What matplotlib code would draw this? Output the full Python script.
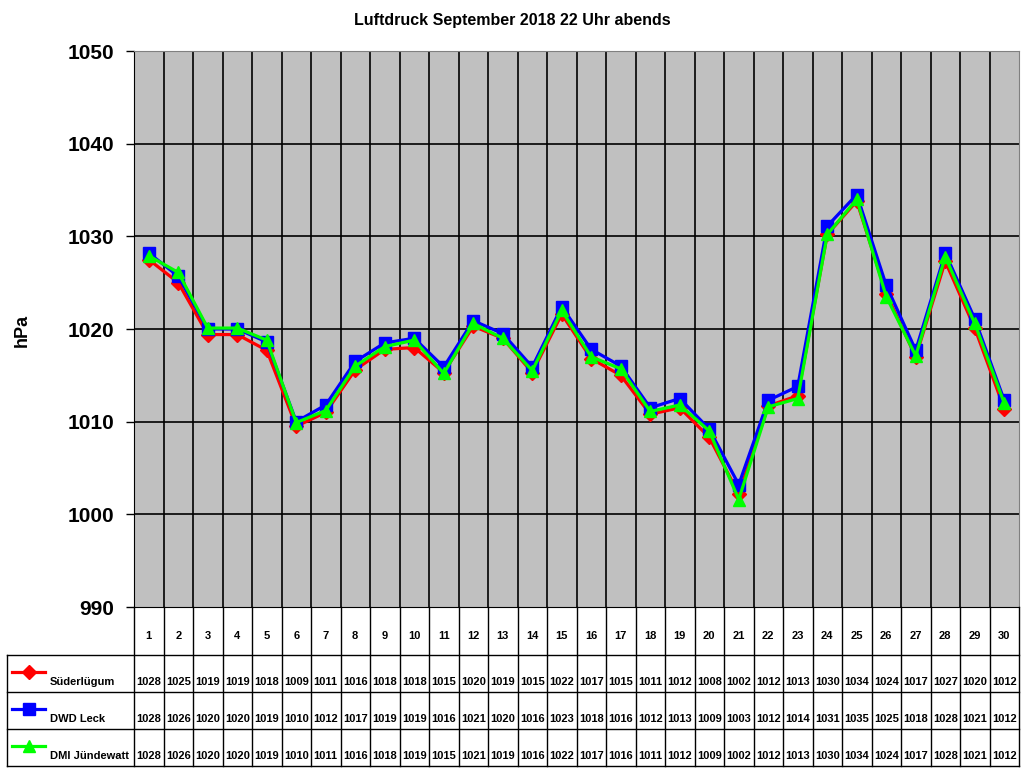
import numpy as np
import matplotlib
matplotlib.use("Agg")
import matplotlib.pyplot as plt

plt.rcParams['font.family'] = ['Liberation Sans', 'DejaVu Sans']
plt.rcParams['font.weight'] = 'bold'

days = list(range(1, 31))

suederluegum = [1027.5, 1025.0, 1019.4, 1019.4, 1017.7, 1009.5, 1011.0, 1015.6, 1017.8, 1018.0,
                1015.3, 1020.3, 1019.0, 1015.3, 1021.6, 1016.8, 1015.0, 1010.8, 1011.5, 1008.3,
                1002.2, 1011.7, 1012.8, 1030.2, 1033.8, 1023.8, 1017.0, 1027.3, 1020.1, 1011.4]
dwd_leck = [1028.2, 1025.7, 1020.0, 1020.0, 1018.6, 1010.0, 1011.8, 1016.5, 1018.5, 1019.0,
            1015.9, 1020.9, 1019.5, 1015.9, 1022.4, 1017.8, 1016.0, 1011.5, 1012.5, 1009.2,
            1003.2, 1012.3, 1013.8, 1031.1, 1034.5, 1024.7, 1017.7, 1028.2, 1021.1, 1012.3]
dmi_juendewatt = [1027.9, 1026.1, 1020.1, 1020.1, 1018.8, 1009.9, 1011.2, 1016.0, 1018.1, 1018.8,
                  1015.2, 1020.6, 1019.0, 1015.5, 1022.0, 1017.0, 1015.7, 1011.1, 1011.8, 1009.0,
                  1001.6, 1011.6, 1012.5, 1030.2, 1034.0, 1023.5, 1017.1, 1027.8, 1020.6, 1012.0]

# Tabellenwerte
tab_sued = [1028, 1025, 1019, 1019, 1018, 1009, 1011, 1016, 1018, 1018, 1015, 1020, 1019, 1015, 1022,
            1017, 1015, 1011, 1012, 1008, 1002, 1012, 1013, 1030, 1034, 1024, 1017, 1027, 1020, 1012]
tab_leck = [1028, 1026, 1020, 1020, 1019, 1010, 1012, 1017, 1019, 1019, 1016, 1021, 1020, 1016, 1023,
            1018, 1016, 1012, 1013, 1009, 1003, 1012, 1014, 1031, 1035, 1025, 1018, 1028, 1021, 1012]
tab_dmi = [1028, 1026, 1020, 1020, 1019, 1010, 1011, 1016, 1018, 1019, 1015, 1021, 1019, 1016, 1022,
           1017, 1016, 1011, 1012, 1009, 1002, 1012, 1013, 1030, 1034, 1024, 1017, 1028, 1021, 1012]

series = [
    ("Süderlügum", suederluegum, tab_sued, "#FF0000", "D", 7),
    ("DWD Leck", dwd_leck, tab_leck, "#0000FF", "s", 9),
    ("DMI Jündewatt", dmi_juendewatt, tab_dmi, "#00FF00", "^", 9),
]

W, H = 1024, 768
fig = plt.figure(figsize=(W / 100, H / 100), dpi=100)

# Plotbereich in Pixeln
L, R, T, B = 134, 1019, 51, 607
ax = fig.add_axes([L / W, 1 - B / H, (R - L) / W, (B - T) / H])
ax.set_facecolor("#C0C0C0")
ax.set_xlim(0.5, 30.5)
ax.set_ylim(990, 1050)
ax.set_yticks(range(990, 1051, 10))
ax.tick_params(axis='y', labelsize=15, length=6, width=1, pad=8)
for lab in ax.get_yticklabels():
    lab.set_fontweight('bold')
ax.set_xticks([])
for x in np.arange(1.5, 30.5, 1):
    ax.axvline(x, color='black', lw=1.2, zorder=1)
for y in range(1000, 1050, 10):
    ax.axhline(y, color='black', lw=1.2, zorder=1)
ax.spines['top'].set_color('#808080')
ax.spines['right'].set_color('#808080')
ax.spines['left'].set_color('black')
ax.spines['bottom'].set_color('black')
fig.text(22 / W, 1 - 330 / H, "hPa", rotation=90, ha='center', va='center',
         fontsize=13, fontweight='bold')

for name, vals, tab, col, mk, ms in series:
    ax.plot(days, vals, color=col, lw=2.3, marker=mk, markersize=ms, zorder=3)

fig.text(0.5, 1 - 20 / H, "Luftdruck September 2018 22 Uhr abends", ha='center', va='center',
         fontsize=11.5, fontweight='bold')

# Tabelle unterhalb
tx = fig.add_axes([0, 0, 1, 1])
tx.set_xlim(0, W)
tx.set_ylim(H, 0)
tx.axis('off')
tx.patch.set_alpha(0)

col_w = (R - L) / 30
rows = [655, 692, 729, 766]
lc = 'black'
for i in range(31):
    x = L + i * col_w
    tx.plot([x, x], [B, rows[-1]], color=lc, lw=1)
tx.plot([7, 7], [rows[0], rows[-1]], color=lc, lw=1)
for y in rows:
    tx.plot([7, R], [y, y], color=lc, lw=1)

for i, d in enumerate(days):
    xc = L + (i + 0.5) * col_w
    tx.text(xc, 636, str(d), ha='center', va='center', fontsize=8, fontweight='bold')

for r, (name, vals, tab, col, mk, ms) in enumerate(series):
    ytop = rows[r]
    ybot = rows[r + 1]
    ylabel = ybot - 10
    tx.plot([12, 45], [ytop + 17, ytop + 17], color=col, lw=2.3)
    tx.plot([29], [ytop + 17], color=col, marker=mk, markersize=ms)
    tx.text(50, ylabel, name, ha='left', va='center', fontsize=8, fontweight='bold')
    for i, v in enumerate(tab):
        xc = L + (i + 0.5) * col_w
        tx.text(xc, ylabel, str(v), ha='center', va='center', fontsize=8, fontweight='bold')

fig.savefig("out.png", dpi=100)
